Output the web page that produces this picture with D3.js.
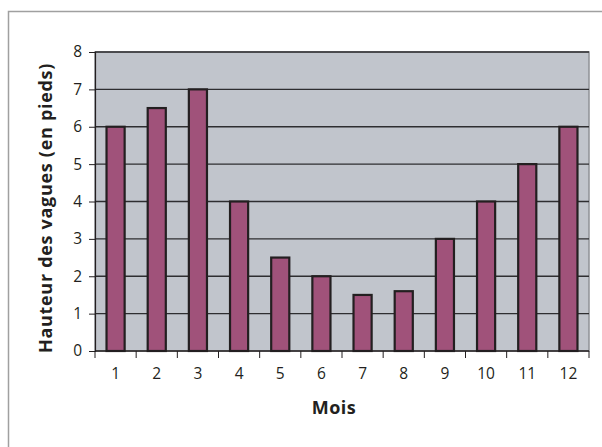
<!DOCTYPE html>
<html><head><meta charset="utf-8">
<script src="https://cdn.jsdelivr.net/npm/d3@7"></script>
<style>body{margin:0;background:#fff}svg{display:block}</style>
</head><body>
<svg id="c" width="602" height="447"></svg>
<script>
const months = ["1","2","3","4","5","6","7","8","9","10","11","12"];
const waveHeights = [6, 6.5, 7, 4, 2.5, 2, 1.5, 1.6, 3, 4, 5, 6];
const yTicks = [0,1,2,3,4,5,6,7,8];
const xTitle = "Mois";
const yTitle = "Hauteur des vagues (en pieds)";

const svg = d3.select("#c");
const font = "'Open Sans', 'Noto Sans', sans-serif";
const L = 95, R = 589, T = 52, B = 351;

// outer frame
svg.append("path").attr("d", `M8.5,447 V11.5 H602`).attr("fill","none").attr("stroke","#a0a0a0").attr("stroke-width",1.5);

const x = d3.scaleBand().domain(months).range([L, R]).paddingInner(0.56).paddingOuter(0.28);
const xb = d3.scaleBand().domain(months).range([L, R]);
const y = d3.scaleLinear().domain([0, 8]).range([B, T]);

// plot background
svg.append("rect").attr("x", L).attr("y", T).attr("width", R - L).attr("height", B - T)
  .attr("fill", "#c1c5cc").attr("stroke", "#8e9196").attr("stroke-width", 1.5);

// gridlines
svg.append("g").selectAll("line").data(yTicks.filter(d => d > 0)).join("line")
  .attr("x1", L).attr("x2", R).attr("y1", d => y(d)).attr("y2", d => y(d))
  .attr("stroke", "#2e2e30").attr("stroke-width", 1.3);

// bars
svg.append("g").selectAll("rect").data(waveHeights).join("rect")
  .attr("x", (d, i) => x(months[i])).attr("width", x.bandwidth())
  .attr("y", d => y(d)).attr("height", d => y(0) - y(d))
  .attr("fill", "#a0527a").attr("stroke", "#231f20").attr("stroke-width", 2.2);

// y axis
const yAxis = svg.append("g").attr("transform", `translate(${L},0)`)
  .call(d3.axisLeft(y).tickValues(yTicks).tickSize(6).tickPadding(7));
yAxis.select(".domain").attr("stroke", "#231f20").attr("stroke-width", 1.2);
yAxis.selectAll(".tick line").attr("stroke", "#231f20");
yAxis.selectAll("text").attr("font-family", font).attr("font-size", 15.5).attr("fill", "#231f20");

// x axis
const xAxis = svg.append("g").attr("transform", `translate(0,${B})`);
xAxis.append("line").attr("x1", L).attr("x2", R).attr("y1", 0).attr("y2", 0)
  .attr("stroke", "#231f20").attr("stroke-width", 1.5);
const bounds = months.map(m => xb(m)).concat([R]);
xAxis.selectAll("line.tk").data(bounds).join("line").attr("class","tk")
  .attr("x1", d => d).attr("x2", d => d).attr("y1", 0).attr("y2", 7)
  .attr("stroke", "#231f20").attr("stroke-width", 1);
xAxis.selectAll("text").data(months).join("text")
  .attr("x", d => xb(d) + xb.bandwidth() / 2).attr("y", 27.5)
  .attr("text-anchor", "middle").attr("font-family", font).attr("font-size", 15.5).attr("fill", "#231f20")
  .text(d => d);

// titles
svg.append("text").attr("x", 334).attr("y", 414).attr("text-anchor", "middle")
  .attr("font-family", font).attr("font-weight", "bold").attr("font-size", 18).attr("fill", "#231f20")
  .attr("letter-spacing", 0.5)
  .text(xTitle);
svg.append("text").attr("transform", `translate(52,208) rotate(-90)`)
  .attr("text-anchor", "middle")
  .attr("font-family", font).attr("font-weight", "bold").attr("font-size", 18).attr("fill", "#231f20")
  .attr("letter-spacing", 0.7)
  .text(yTitle);
</script>
</body></html>
